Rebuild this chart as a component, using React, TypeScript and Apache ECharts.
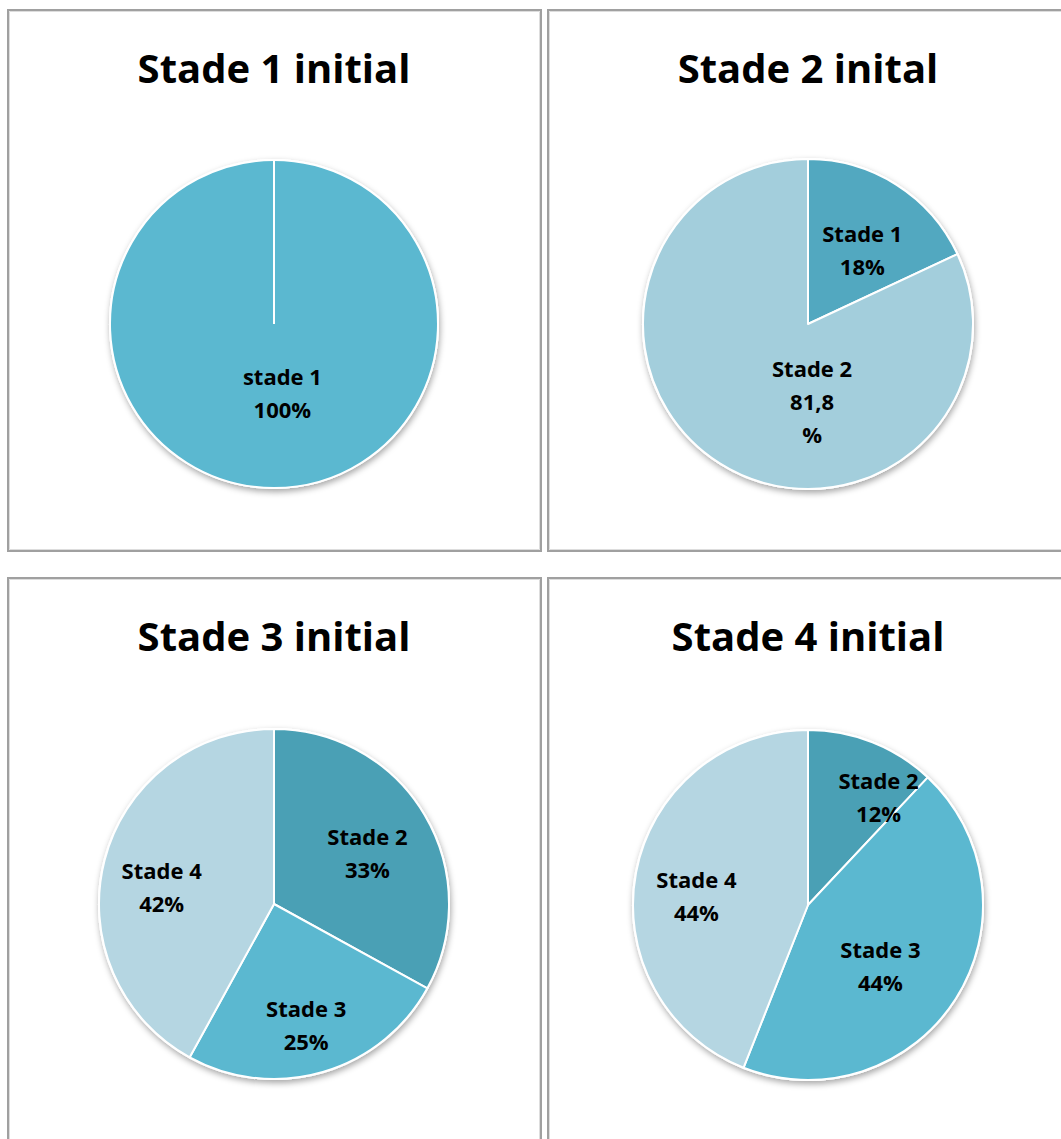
import React, { useEffect, useRef } from "react";
import * as echarts from "echarts";

// Distribution of stages for each initial stage
const TITLES = ["Stade 1 initial", "Stade 2 inital", "Stade 3 initial", "Stade 4 initial"];

const STADE1_NAMES = ["stade 1"];
const STADE1_VALUES = [100];

const STADE2_NAMES = ["Stade 1", "Stade 2"];
const STADE2_VALUES = [18, 81.8];

const STADE3_NAMES = ["Stade 2", "Stade 3", "Stade 4"];
const STADE3_VALUES = [33, 25, 42];

const STADE4_NAMES = ["Stade 2", "Stade 3", "Stade 4"];
const STADE4_VALUES = [12, 44, 44];

// Palette
const DARK = "#4aa0b5";
const MID = "#5bb8d0";
const LIGHT = "#b5d6e2";
const S2_DARK = "#52a8c0";
const S2_LIGHT = "#a3cedc";

const FONT = "'Open Sans', 'Noto Sans', sans-serif";

type Panel = {
  title: string;
  names: string[];
  values: number[];
  colors: string[];
  box: [number, number, number, number];
  cx: number;
  cy: number;
  r: number;
  titleTop: number;
  // label anchor per slice: [angle clockwise from 12 o'clock (deg), fraction of radius]
  spots: [number, number][];
};

const PANELS: Panel[] = [
  {
    title: TITLES[0],
    names: STADE1_NAMES,
    values: STADE1_VALUES,
    colors: [MID],
    box: [8, 10, 533, 541],
    cx: 274,
    cy: 324,
    r: 164,
    titleTop: 47,
    spots: [[173, 0.42]],
  },
  {
    title: TITLES[1],
    names: STADE2_NAMES,
    values: STADE2_VALUES,
    colors: [S2_DARK, S2_LIGHT],
    box: [548, 10, 540, 541],
    cx: 808,
    cy: 324,
    r: 165,
    titleTop: 47,
    spots: [
      [36, 0.56],
      [177, 0.47],
    ],
  },
  {
    title: TITLES[2],
    names: STADE3_NAMES,
    values: STADE3_VALUES,
    colors: [DARK, MID, LIGHT],
    box: [8, 578, 533, 600],
    cx: 274,
    cy: 904,
    r: 175,
    titleTop: 615,
    spots: [
      [61, 0.61],
      [165, 0.71],
      [279, 0.65],
    ],
  },
  {
    title: TITLES[3],
    names: STADE4_NAMES,
    values: STADE4_VALUES,
    colors: [DARK, MID, LIGHT],
    box: [548, 578, 540, 600],
    cx: 808,
    cy: 905,
    r: 175,
    titleTop: 615,
    spots: [
      [33, 0.74],
      [130, 0.54],
      [275, 0.64],
    ],
  },
];

function pctText(v: number): string {
  const txt = String(v).replace(".", ",");
  return Number.isInteger(v) ? `${txt}%` : `${txt}\n%`;
}

function buildOption(): echarts.EChartsOption {
  const series: any[] = [];
  PANELS.forEach((p) => {
    // backdrop disc carrying the drop shadow
    series.push({
      type: "pie",
      silent: true,
      center: [p.cx, p.cy],
      radius: [0, p.r],
      z: 1,
      label: { show: false },
      labelLine: { show: false },
      itemStyle: {
        color: "#ffffff",
        borderColor: "#ffffff",
        borderWidth: 2,
        shadowBlur: 6,
        shadowOffsetX: 1,
        shadowOffsetY: 3,
        shadowColor: "rgba(0,0,0,0.35)",
      },
      data: [{ value: 1, name: "" }],
    });
    series.push({
      type: "pie",
      center: [p.cx, p.cy],
      radius: [0, p.r],
      startAngle: 90,
      clockwise: true,
      z: 2,
      label: {
        show: true,
        position: "inside",
        color: "#000",
        fontFamily: FONT,
        fontWeight: "bold",
        fontSize: 22,
        lineHeight: 33,
        align: "center",
        formatter: (prm: any) => `${prm.name}\n${pctText(prm.value)}`,
      },
      labelLine: { show: false },
      labelLayout: (prm: any) => {
        const [ang, f] = p.spots[prm.dataIndex];
        const a = (ang * Math.PI) / 180;
        return {
          x: p.cx + f * p.r * Math.sin(a),
          y: p.cy - f * p.r * Math.cos(a),
          align: "center",
          verticalAlign: "middle",
        };
      },
      itemStyle: { borderColor: "#ffffff", borderWidth: 2 },
      emphasis: { disabled: true },
      data: p.values.map((v, i) => ({
        value: v,
        name: p.names[i],
        itemStyle: { color: p.colors[i] },
      })),
    });
  });

  const graphic: any[] = [];
  PANELS.forEach((p) => {
    const [x, y, w, h] = p.box;
    graphic.push({
      type: "rect",
      shape: { x, y, width: w, height: h },
      style: { fill: "none", stroke: "#a0a0a0", lineWidth: 2 },
      z: 0,
    });
    graphic.push({
      type: "rect",
      shape: { x: x + 1.5, y: y + 1.5, width: w - 3, height: h - 3 },
      style: { fill: "none", stroke: "#dddddd", lineWidth: 1 },
      z: 0,
    });
    // a single full slice still shows its start edge
    if (p.values.length === 1) {
      graphic.push({
        type: "line",
        shape: { x1: p.cx, y1: p.cy - p.r, x2: p.cx, y2: p.cy },
        style: { stroke: "#ffffff", lineWidth: 2 },
        z: 100,
      });
    }
  });

  return {
    animation: false,
    backgroundColor: "#ffffff",
    title: PANELS.map((p) => ({
      text: p.title,
      left: p.cx,
      top: p.titleTop,
      textAlign: "center",
      padding: 0,
      textStyle: {
        fontFamily: FONT,
        fontWeight: "bold",
        fontSize: 40,
        color: "#000000",
      },
    })),
    graphic,
    series,
  };
}

export default function App() {
  const ref = useRef<HTMLDivElement>(null);
  useEffect(() => {
    if (!ref.current) return;
    const chart = echarts.init(ref.current, null, { renderer: "svg" });
    chart.setOption(buildOption());
    return () => chart.dispose();
  }, []);
  return (
    <div
      ref={ref}
      style={{ position: "fixed", left: 0, top: 0, width: 1061, height: 1139, background: "#fff" }}
    />
  );
}
